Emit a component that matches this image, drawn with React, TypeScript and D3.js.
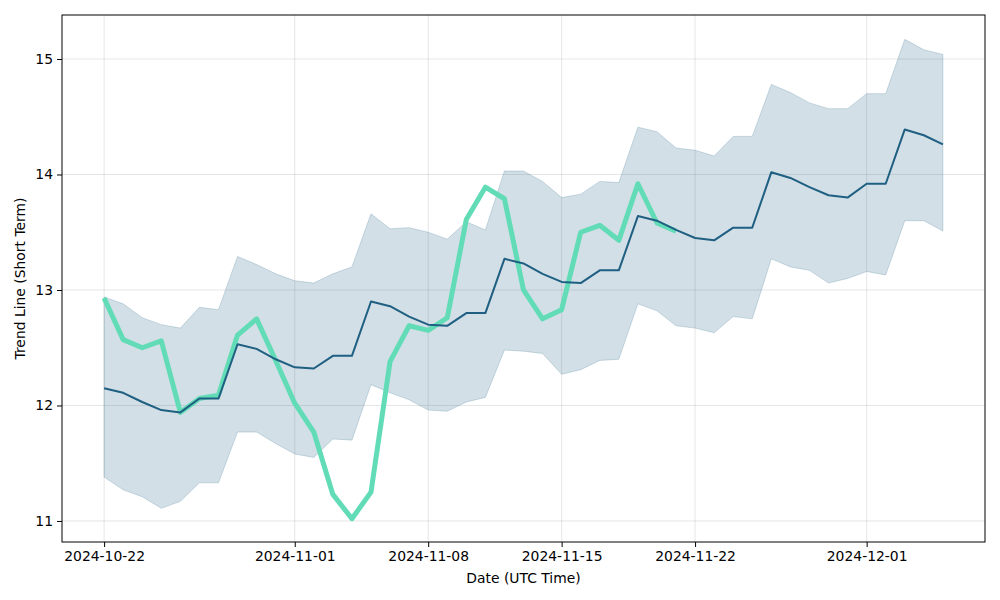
import React, { useRef, useEffect } from "react";
import * as d3 from "d3";

// daily points, starting 2024-10-22
const startDate = "2024-10-22";

const trendValues = [
  12.15, 12.11, 12.03, 11.96, 11.94, 12.06, 12.06, 12.53, 12.49, 12.4, 12.33,
  12.32, 12.43, 12.43, 12.9, 12.86, 12.77, 12.7, 12.69, 12.8, 12.8, 13.27,
  13.23, 13.14, 13.07, 13.06, 13.17, 13.17, 13.64, 13.6, 13.52, 13.45, 13.43,
  13.54, 13.54, 14.02, 13.97, 13.89, 13.82, 13.8, 13.92, 13.92, 14.39, 14.34,
  14.26,
];

const upperValues = [
  12.94, 12.88, 12.76, 12.7, 12.67, 12.85, 12.83, 13.29, 13.22, 13.14, 13.08,
  13.06, 13.14, 13.2, 13.66, 13.53, 13.54, 13.5, 13.44, 13.59, 13.52, 14.03,
  14.03, 13.94, 13.8, 13.83, 13.94, 13.93, 14.41, 14.37, 14.23, 14.21, 14.16,
  14.33, 14.33, 14.78, 14.71, 14.62, 14.57, 14.57, 14.7, 14.7, 15.17, 15.08,
  15.04,
];

const lowerValues = [
  11.38, 11.27, 11.21, 11.11, 11.17, 11.33, 11.33, 11.77, 11.77, 11.67, 11.58,
  11.55, 11.71, 11.7, 12.18, 12.11, 12.05, 11.96, 11.95, 12.03, 12.07, 12.48,
  12.47, 12.45, 12.27, 12.31, 12.39, 12.4, 12.88, 12.82, 12.69, 12.67, 12.63,
  12.77, 12.75, 13.27, 13.2, 13.17, 13.06, 13.1, 13.16, 13.13, 13.6, 13.6,
  13.51,
];

const priceValues = [
  12.93, 12.57, 12.5, 12.56, 11.94, 12.06, 12.09, 12.61, 12.75, 12.39, 12.02,
  11.77, 11.23, 11.02, 11.25, 12.38, 12.69, 12.65, 12.76, 13.61, 13.89, 13.79,
  13.0, 12.75, 12.83, 13.5, 13.56, 13.43, 13.92, 13.58, 13.51,
];

const xTickLabels = [
  "2024-10-22",
  "2024-11-01",
  "2024-11-08",
  "2024-11-15",
  "2024-11-22",
  "2024-12-01",
];
const yTicks = [11, 12, 13, 14, 15];

const FONT = "DejaVu Sans, sans-serif";
const FONT_SIZE = "13.9px";

const App = () => {
  const chartRef = useRef<HTMLDivElement>(null);

  useEffect(() => {
    const el = chartRef.current!;
    const width = 1000;
    const height = 600;
    const margin = { top: 15, right: 15, bottom: 58, left: 62 };
    const w = width - margin.left - margin.right;
    const h = height - margin.top - margin.bottom;

    const parse = d3.utcParse("%Y-%m-%d");
    const t0 = parse(startDate)!;
    const dates = d3.utcDay.range(
      t0,
      d3.utcDay.offset(t0, trendValues.length)
    );

    const x = d3
      .scaleUtc()
      .domain([d3.utcHour.offset(t0, -53), d3.utcHour.offset(dates[dates.length - 1], 53)])
      .range([0, w]);
    const y = d3.scaleLinear().domain([10.818, 15.381]).range([h, 0]);

    const svg = d3
      .select(el)
      .append("svg")
      .attr("width", width)
      .attr("height", height)
      .style("display", "block")
      .append("g")
      .attr("transform", `translate(${margin.left},${margin.top})`);

    const xTicks = xTickLabels.map((s) => parse(s)!);

    // grid
    svg
      .selectAll(".gx")
      .data(xTicks)
      .enter()
      .append("line")
      .attr("x1", (d) => x(d))
      .attr("x2", (d) => x(d))
      .attr("y1", 0)
      .attr("y2", h)
      .attr("stroke", "#b0b0b0")
      .attr("stroke-opacity", 0.4)
      .attr("stroke-width", 0.8);
    svg
      .selectAll(".gy")
      .data(yTicks)
      .enter()
      .append("line")
      .attr("x1", 0)
      .attr("x2", w)
      .attr("y1", (d) => y(d))
      .attr("y2", (d) => y(d))
      .attr("stroke", "#b0b0b0")
      .attr("stroke-opacity", 0.4)
      .attr("stroke-width", 0.8);

    const band = dates.map((d, i) => ({ d, lo: lowerValues[i], hi: upperValues[i] }));
    const area = d3
      .area<{ d: Date; lo: number; hi: number }>()
      .x((p) => x(p.d))
      .y0((p) => y(p.lo))
      .y1((p) => y(p.hi));

    svg
      .append("path")
      .attr("d", area(band))
      .attr("fill", "#1f5f82")
      .attr("fill-opacity", 0.2)
      .attr("stroke", "#1f5f82")
      .attr("stroke-opacity", 0.2)
      .attr("stroke-width", 1);

    const line = d3
      .line<number>()
      .x((_, i) => x(dates[i]))
      .y((v) => y(v));

    svg
      .append("path")
      .attr("d", line(priceValues))
      .attr("fill", "none")
      .attr("stroke", "#62dcb7")
      .attr("stroke-width", 5)
      .attr("stroke-linejoin", "round");

    svg
      .append("path")
      .attr("d", line(trendValues))
      .attr("fill", "none")
      .attr("stroke", "#1f5f82")
      .attr("stroke-width", 2)
      .attr("stroke-linejoin", "round");

    // frame
    svg
      .append("rect")
      .attr("x", 0)
      .attr("y", 0)
      .attr("width", w)
      .attr("height", h)
      .attr("fill", "none")
      .attr("stroke", "#000")
      .attr("stroke-width", 1);

    const xAxis = svg
      .append("g")
      .attr("transform", `translate(0,${h})`)
      .call(
        d3
          .axisBottom(x)
          .tickValues(xTicks)
          .tickFormat((d) => d3.utcFormat("%Y-%m-%d")(d as Date))
          .tickSize(5)
          .tickPadding(4)
      );
    xAxis.select(".domain").remove();
    xAxis.selectAll("text").style("font-family", FONT).style("font-size", FONT_SIZE).attr("fill", "#000");

    const yAxis = svg
      .append("g")
      .call(d3.axisLeft(y).tickValues(yTicks).tickFormat(d3.format("d")).tickSize(5).tickPadding(4));
    yAxis.select(".domain").remove();
    yAxis.selectAll("text").style("font-family", FONT).style("font-size", FONT_SIZE).attr("fill", "#000");

    svg
      .append("text")
      .attr("text-anchor", "middle")
      .attr("x", w / 2)
      .attr("y", h + 41)
      .style("font-family", FONT)
      .style("font-size", FONT_SIZE)
      .text("Date (UTC Time)");

    svg
      .append("text")
      .attr("text-anchor", "middle")
      .attr("transform", `translate(${-37},${h / 2}) rotate(-90)`)
      .style("font-family", FONT)
      .style("font-size", FONT_SIZE)
      .text("Trend Line (Short Term)");

    return () => {
      el.innerHTML = "";
    };
  }, []);

  return (
    <div
      ref={chartRef}
      style={{ position: "absolute", left: 0, top: 0, background: "#fff" }}
    ></div>
  );
};

export default App;
